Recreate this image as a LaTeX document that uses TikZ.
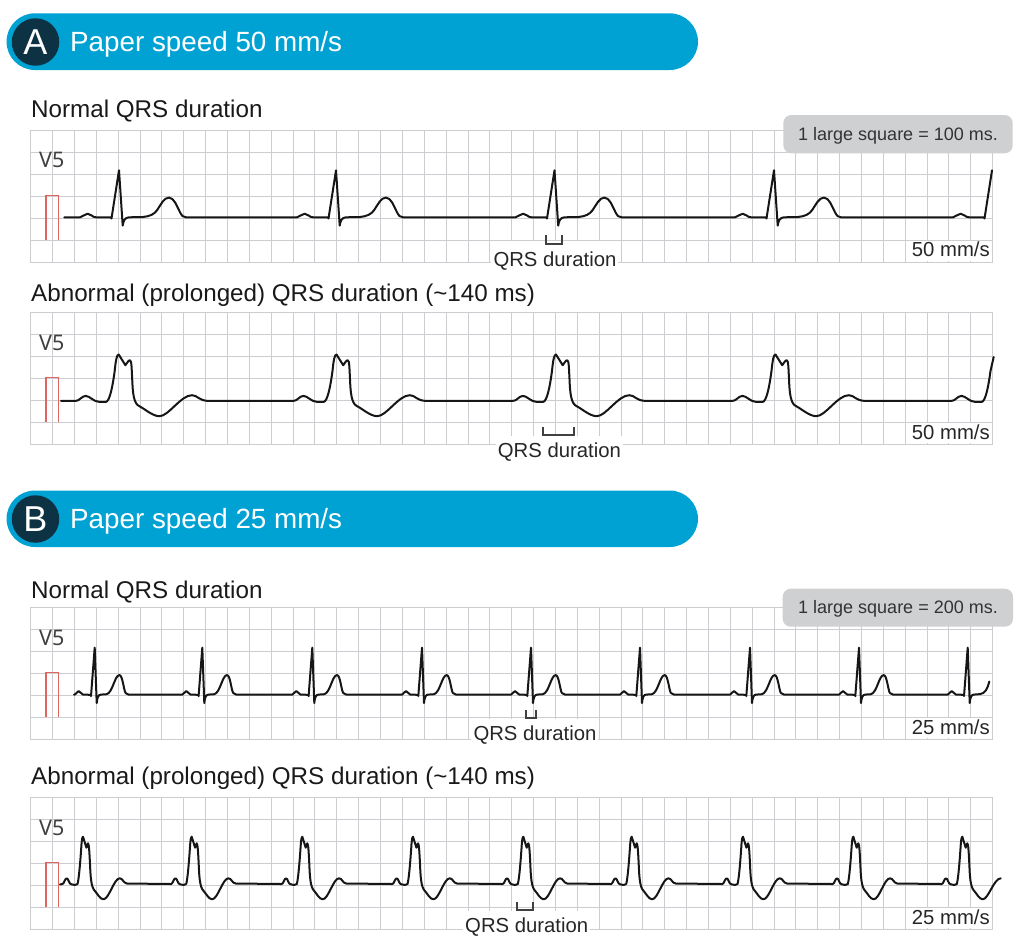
\documentclass[tikz,border=0pt]{standalone}
\usepackage{fontspec}
\setmainfont{Liberation Sans}
\newfontfamily\vfont{Noto Sans}
\definecolor{pillblue}{HTML}{00A2D3}
\definecolor{pilldark}{HTML}{0C3244}
\definecolor{gridgrey}{HTML}{CDCDD1}
\definecolor{notegrey}{HTML}{CFD0D2}
\definecolor{pulsered}{HTML}{DE6560}
\definecolor{tracecol}{HTML}{161616}
\newcommand{\fsz}[1]{\fontsize{#1}{#1}\selectfont}
% beat templates: R = x of the R peak; y relative to the baseline
\def\beatAN#1{-- (#1-39,0) \tailAN{#1} -- (#1,-47) -- (#1+3.7,8.3) .. controls (#1+4.5,3) and (#1+6,0.3) .. (#1+10,0) -- (#1+24,-0.3) .. controls (#1+31,-1) and (#1+35,-3) .. (#1+38,-7) .. controls (#1+42,-13) and (#1+45,-19.7) .. (#1+50,-19.7) .. controls (#1+55,-19.7) and (#1+58,-11) .. (#1+61,-5) .. controls (#1+63,-1.5) and (#1+64,0) .. (#1+67,0)}
\def\tailAN#1{.. controls (#1-36,0) and (#1-35,-3.6) .. (#1-31.3,-3.6) .. controls (#1-28,-3.6) and (#1-27,0) .. (#1-23,0) -- (#1-8,0.2) -- (#1-7.5,1.2)}
\def\tailAP#1{-- (#1-43,0) .. controls (#1-39,0) and (#1-37,-5) .. (#1-33,-5) .. controls (#1-29,-5) and (#1-25,1) .. (#1-19.3,1) -- (#1-13,1) .. controls (#1-9,1) and (#1-6,-15) .. (#1-4,-30)}
\def\beatAP#1{\tailAP{#1} .. controls (#1-3,-40) and (#1-2,-46.4) .. (#1,-46.4) -- (#1+6.7,-35.7) .. controls (#1+8,-37) and (#1+9.5,-40.7) .. (#1+11.3,-40.7) .. controls (#1+13,-40.7) and (#1+13,-30) .. (#1+13.5,-22) .. controls (#1+14,-8) and (#1+15,3) .. (#1+20.7,5.3) .. controls (#1+26,8) and (#1+34,15.3) .. (#1+40.7,15.3) .. controls (#1+50,15.3) and (#1+62,-5.7) .. (#1+73.3,-5.7) .. controls (#1+79,-5.7) and (#1+80,0) .. (#1+90,0)}
\def\tailBN#1{-- (#1-20,0) .. controls (#1-18,0) and (#1-18,-3.6) .. (#1-16,-3.6) .. controls (#1-14,-3.6) and (#1-14,0) .. (#1-11.7,0) -- (#1-4,0.2) -- (#1-3.7,1.5)}
\def\beatBN#1{\tailBN{#1} -- (#1,-47) -- (#1+2,8.5) .. controls (#1+2.5,3) and (#1+3.5,0.2) .. (#1+6,0) -- (#1+12,-0.4) .. controls (#1+18,-2) and (#1+20,-19.5) .. (#1+24.7,-19.5) .. controls (#1+28,-19.5) and (#1+29,-4) .. (#1+31,-1.5) .. controls (#1+32,-0.3) and (#1+33,0) .. (#1+34,0)}
\def\tailBP#1{-- (#1-20.6,0) .. controls (#1-19,0) and (#1-18,-5.7) .. (#1-16.3,-5.7) .. controls (#1-14.5,-5.7) and (#1-14,0.3) .. (#1-11.6,0.3) .. controls (#1-8,1.2) and (#1-6.5,0.8) .. (#1-5.5,0) .. controls (#1-4,-5) and (#1-2.5,-25) .. (#1-1.5,-40)}
\def\beatBP#1{\tailBP{#1} .. controls (#1-1,-46) and (#1-0.5,-47.3) .. (#1,-47.3) -- (#1+3.4,-36.3) .. controls (#1+4,-38) and (#1+4.5,-40.7) .. (#1+5,-40.7) .. controls (#1+6,-40.7) and (#1+6.5,-30) .. (#1+7,-20) .. controls (#1+7.5,-8) and (#1+8,3) .. (#1+11.7,6.7) .. controls (#1+14,9) and (#1+17,15.3) .. (#1+20.4,15.3) .. controls (#1+26,15.3) and (#1+31,-5.7) .. (#1+36.7,-5.7) .. controls (#1+40,-5.7) and (#1+40,-1) .. (#1+44,-0.5)}
\tikzset{
  pill/.style={fill=pillblue,rounded corners=28.4pt},
  badge/.style={circle,fill=pilldark,text=white,inner sep=0pt,minimum size=47.5pt,font=\fsz{36}},
  pilltext/.style={anchor=base west,inner sep=0pt,yshift=-0.8pt,text=white,font=\fsz{27.8}},
  rowtitle/.style={anchor=base west,inner sep=0pt,yshift=-0.8pt,text=black!90,font=\fsz{24.2}},
  leadname/.style={anchor=base west,inner sep=0pt,yshift=-0.8pt,text=black!75,font=\vfont\fsz{21.5}},
  qrstext/.style={anchor=base west,inner sep=0pt,yshift=-0.8pt,text=black!85,font=\fsz{20.3}},
  notebox/.style={fill=notegrey,rounded corners=8pt},
  notetext/.style={anchor=base west,inner sep=0pt,yshift=-0.8pt,text=black!80,font=\fsz{18}},
  gridline/.style={draw=gridgrey,line width=1.6pt},
  calpulse/.style={draw=pulsered,line width=1.6pt},
  ecgtrace/.style={draw=tracecol,line width=2pt,line join=round,line cap=round},
  qrsmark/.style={draw=black!75,line width=1.8pt},
}
\newcommand{\ecggrid}[1]{%
  \begin{scope}[shift={(0,#1)}]
    \foreach \i in {0,...,44} \draw[gridline] ({round(30.3+\i*21.86)+0.5},0) -- ({round(30.3+\i*21.86)+0.5},132);
    \foreach \j in {0,...,6} \draw[gridline] (30.3,{round(\j*21.93)+0.5}) -- (992.8,{round(\j*21.93)+0.5});
    \draw[calpulse] (46,109.5) -- (46,65.5) -- (58.5,65.5) -- (58.5,109.5);
  \end{scope}}
\begin{document}
\begin{tikzpicture}[x=1pt,y=-1pt]
\useasboundingbox (0,0) rectangle (1024,948);
% Header A
\fill[pill] (6.5,13.3) rectangle (698,70);
\node[badge] (badgeA) at (35.5,42) {A};
\node[pilltext] (titleA) at (70,50.7) {Paper speed 50 mm/s};
% Header B
\fill[pill] (6.5,490.5) rectangle (698,547);
\node[badge] (badgeB) at (35.5,519) {B};
\node[pilltext] (titleB) at (70,527.7) {Paper speed 25 mm/s};
% Grids
\ecggrid{130}
\ecggrid{312}
\ecggrid{607}
\ecggrid{797}
% white patches behind the labels
\fill[white] (909,241) rectangle (991,261);
\fill[white] (909,423) rectangle (991,443);
\fill[white] (909,718) rectangle (991,738);
\fill[white] (909,908) rectangle (991,928);
\fill[white] (491,241) rectangle (618,271);
\fill[white] (496,436) rectangle (623,462);
\fill[white] (471,719) rectangle (598,745);
\fill[white] (463,911) rectangle (590,937);
% Titles
\node[rowtitle] (n1) at (31,116.7) {Normal QRS duration};
\node[rowtitle] (n2) at (31,300.7) {Abnormal (prolonged) QRS duration (\textasciitilde140 ms)};
\node[rowtitle] (n3) at (31,597.3) {Normal QRS duration};
\node[rowtitle] (n4) at (31,784) {Abnormal (prolonged) QRS duration (\textasciitilde140 ms)};
% Lead names
\node[leadname] (v1) at (39,166.7) {V5};
\node[leadname] (v2) at (39,350) {V5};
\node[leadname] (v3) at (39,645) {V5};
\node[leadname] (v4) at (39,834.3) {V5};
% Traces
\begin{scope}[shift={(0,217.3)}]
\draw[ecgtrace] (64.3,0) \beatAN{119} \beatAN{336} \beatAN{554.5} \beatAN{774} -- (992-39,0) \tailAN{992} -- (992,-47);
\end{scope}
\begin{scope}[shift={(0,400.9)}]
\draw[ecgtrace] (61,0) \beatAP{118.7} \beatAP{336.5} \beatAP{556} \beatAP{775.5} \tailAP{994.5} -- (993.7,-44);
\end{scope}
\begin{scope}[shift={(0,694.6)}]
\draw[ecgtrace] (74,0) \beatBN{94.7} \beatBN{202.3} \beatBN{312.3} \beatBN{422} \beatBN{531} \beatBN{640} \beatBN{750} \beatBN{859} \tailBN{967.7} -- (967.7,-47) -- (969.7,8.5) .. controls (970.2,3) and (971.2,0.2) .. (973.7,0) -- (980,-0.5) .. controls (985,-1) and (987.5,-6) .. (989.3,-13);
\end{scope}
\begin{scope}[shift={(0,884)}]
\draw[ecgtrace] (60,0.5) \beatBP{83} \beatBP{191.7} \beatBP{302.3} \beatBP{413} \beatBP{523.3} \beatBP{631.7} \beatBP{743} \beatBP{853.3} \tailBP{962.3} .. controls (961.3,-46) and (961.8,-47.3) .. (962.3,-47.3) -- (965.7,-36.3) .. controls (966.3,-38) and (966.8,-40.7) .. (967.3,-40.7) .. controls (968.3,-40.7) and (968.8,-30) .. (969.3,-20) .. controls (969.8,-8) and (970.3,3) .. (974,6.7) .. controls (976.3,9) and (979.3,15.3) .. (982.7,15.3) .. controls (988.3,15.3) and (994,-5.7) .. (1000.7,-5.7);
\end{scope}
% QRS brackets
\draw[qrsmark] (546,235) -- (546,243.7) -- (561.7,243.7) -- (561.7,235);
\draw[qrsmark] (543.3,426.7) -- (543.3,435.3) -- (574.3,435.3) -- (574.3,426.7);
\draw[qrsmark] (525.7,710) -- (525.7,718.3) -- (536.3,718.3) -- (536.3,710);
\draw[qrsmark] (516.7,901.7) -- (516.7,910) -- (533.3,910) -- (533.3,901.7);
% Labels
\node[qrstext] (q1) at (493.3,265.7) {QRS duration};
\node[qrstext] (q2) at (497.7,456.7) {QRS duration};
\node[qrstext] (q3) at (473.3,740) {QRS duration};
\node[qrstext] (q4) at (465,931.7) {QRS duration};
\node[qrstext] (s1) at (911.7,255.3) {50 mm/s};
\node[qrstext] (s2) at (911.7,438.3) {50 mm/s};
\node[qrstext] (s3) at (911.7,733.3) {25 mm/s};
\node[qrstext] (s4) at (911.7,923.3) {25 mm/s};
% Notes
\fill[notebox] (783.3,115) rectangle (1012.7,153.3);
\node[notetext] (note1) at (798,139.3) {1 large square = 100 ms.};
\fill[notebox] (782.7,588.7) rectangle (1013,626.7);
\node[notetext] (note2) at (798,612.7) {1 large square = 200 ms.};
\end{tikzpicture}
\end{document}
